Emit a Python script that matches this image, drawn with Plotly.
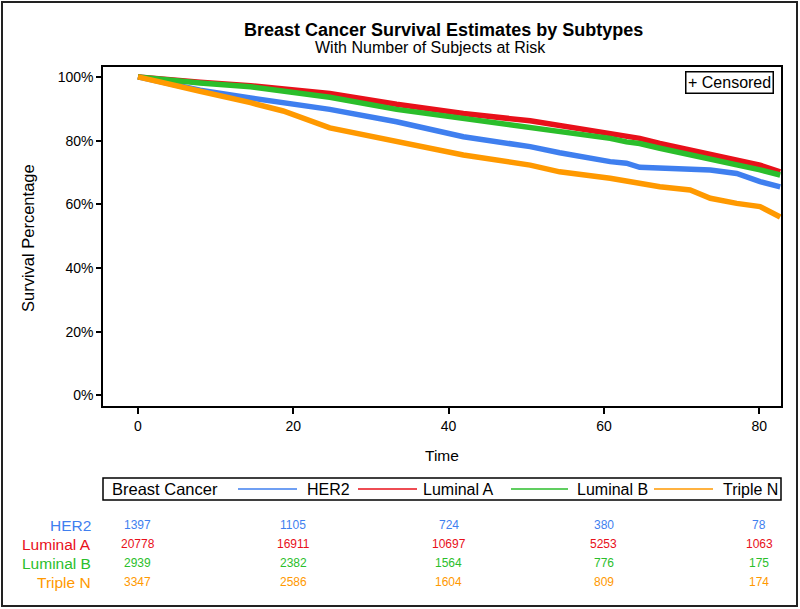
import plotly.graph_objects as go

# ---- data ----
time = [0, 4, 8, 14.5, 18.7, 24.7, 33.3, 41.9, 50.5, 54.3, 60.8, 62.9, 64.6, 67.2, 71.1, 73.7, 77.1, 80.1, 82.7]
her2 = [100, 97.9, 95.8, 93.4, 91.9, 89.8, 85.9, 81.2, 78.1, 76.2, 73.4, 72.9, 71.6, 71.3, 71.0, 70.8, 69.7, 67.1, 65.5]
lum_a = [100, 99.0, 98.3, 97.2, 96.2, 94.8, 91.4, 88.5, 86.2, 84.7, 82.1, 81.4, 80.7, 79.1, 77.0, 75.5, 73.9, 72.3, 70.2]
lum_b = [100, 98.9, 98.1, 96.9, 95.5, 93.6, 89.8, 87.0, 84.3, 82.8, 80.7, 79.6, 79.1, 77.6, 75.5, 74.1, 72.7, 70.8, 69.2]
trip_n = [100, 97.6, 95.5, 91.9, 89.3, 84.0, 79.6, 75.5, 72.3, 70.2, 68.2, 67.4, 66.8, 65.5, 64.5, 61.9, 60.3, 59.3, 56.0]

series_names = ["HER2", "Luminal A", "Luminal B", "Triple N"]
series_colors = ["#3F7FEF", "#E8101A", "#2BBE2B", "#FF9900"]

risk_times = [0, 20, 40, 60, 80]
risk_her2 = [1397, 1105, 724, 380, 78]
risk_lum_a = [20778, 16911, 10697, 5253, 1063]
risk_lum_b = [2939, 2382, 1564, 776, 175]
risk_trip_n = [3347, 2586, 1604, 809, 174]

x_ticks = [0, 20, 40, 60, 80]
y_ticks = [0, 20, 40, 60, 80, 100]
y_tick_text = ["0%", "20%", "40%", "60%", "80%", "100%"]

FONT = "Liberation Sans, Arial, sans-serif"

# ---- geometry (pixels) ----
W, H = 800, 609
L, R, T, B = 103, 19, 67, 203
PW, PH = W - L - R, H - T - B


def px(x):
    return (x - L) / PW


def py(y):
    return (H - B - y) / PH


fig = go.Figure()
curves = [her2, lum_a, lum_b, trip_n]
for name, col, vals in zip(series_names, series_colors, curves):
    fig.add_trace(go.Scatter(x=time, y=vals, mode="lines", name=name,
                             line=dict(color=col, width=5.5), showlegend=False))

annotations = [
    dict(text="<b>Breast Cancer Survival Estimates by Subtypes</b>", x=px(443), y=py(30),
         font=dict(size=18, color="black")),
    dict(text="With Number of Subjects at Risk", x=px(430), y=py(47.5),
         font=dict(size=16, color="black")),
    dict(text="Survival Percentage", x=px(28), y=py(238), textangle=-90,
         font=dict(size=16.5, color="black")),
    dict(text="Time", x=px(442), y=py(455), font=dict(size=15.5, color="black")),
    dict(text="+ Censored", x=px(729.5), y=py(82.5), font=dict(size=16, color="black"),
         bordercolor="black", borderwidth=1.5, borderpad=1.5, bgcolor="white"),
    dict(text="Breast Cancer", x=px(110), y=py(489), xanchor="left",
         font=dict(size=16.5, color="black")),
]
for a in annotations:
    a.setdefault("xref", "paper")
    a.setdefault("yref", "paper")
    a.setdefault("showarrow", False)
    a.setdefault("xanchor", "center")
    a.setdefault("yanchor", "middle")

shapes = [
    dict(type="rect", xref="paper", yref="paper", x0=px(2), x1=px(797), y0=py(606), y1=py(2),
         line=dict(color="#222", width=2)),
    dict(type="rect", xref="paper", yref="paper", x0=0, x1=1, y0=py(500), y1=py(478),
         line=dict(color="black", width=1.5)),
]

legend_lines = [(238, 297, 305), (358, 417, 421), (511, 568, 575), (654, 713, 721)]
for (x0, x1, xt), name, col in zip(legend_lines, series_names, series_colors):
    shapes.append(dict(type="line", xref="paper", yref="paper", x0=px(x0), x1=px(x1),
                       y0=py(489), y1=py(489), line=dict(color=col, width=1.5)))
    annotations.append(dict(text=name, xref="paper", yref="paper", x=px(xt), y=py(489),
                            xanchor="left", yanchor="middle", showarrow=False,
                            font=dict(size=16, color="black")))

risk_rows = [risk_her2, risk_lum_a, risk_lum_b, risk_trip_n]
row_y = [525, 544, 563, 582]
for name, col, vals, ry in zip(series_names, series_colors, risk_rows, row_y):
    annotations.append(dict(text=name, xref="paper", yref="paper", x=px(93), y=py(ry),
                            xanchor="right", yanchor="middle", showarrow=False,
                            font=dict(size=15.5, color=col)))
    for t, v in zip(risk_times, vals):
        annotations.append(dict(text=str(v), xref="x", yref="paper", x=t, y=py(ry),
                                xanchor="center", yanchor="middle", showarrow=False,
                                font=dict(size=12, color=col)))

fig.update_layout(
    width=W, height=H, autosize=False,
    margin=dict(l=L, r=R, t=T, b=B, pad=0),
    paper_bgcolor="white", plot_bgcolor="white",
    font=dict(family=FONT, color="black"),
    showlegend=False,
    annotations=annotations,
    shapes=shapes,
    xaxis=dict(range=[-4.5, 82.8], tickvals=x_ticks, ticks="outside", ticklen=6,
               tickwidth=1.5, tickcolor="black", showline=True, mirror=True,
               linecolor="black", linewidth=1.5, showgrid=False, zeroline=False,
               tickfont=dict(size=14, color="black")),
    yaxis=dict(range=[-3.3, 103.1], tickvals=y_ticks, ticktext=y_tick_text, ticks="outside",
               ticklen=5, tickwidth=1.5, tickcolor="black", showline=True, mirror=True,
               linecolor="black", linewidth=1.5, showgrid=False, zeroline=False,
               tickfont=dict(size=14, color="black")),
)

fig.write_html("out.html", config={"displayModeBar": False},
               post_script="document.body.style.margin='0';document.body.style.overflow='hidden';")
